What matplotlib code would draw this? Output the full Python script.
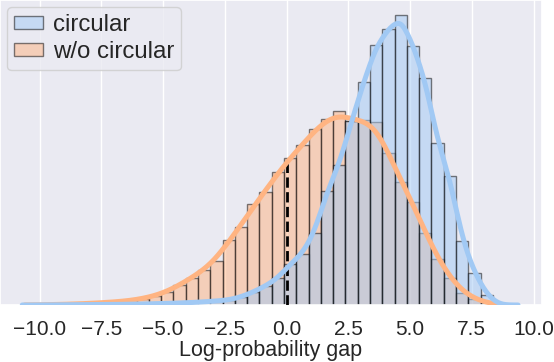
import numpy as np
import matplotlib.pyplot as plt
import seaborn as sns

# bins shared by both series (log-probability gap)
bin_start = -10.05
bin_width = 0.4973
n_bins = 37

# bar heights, left to right
circular = [0.2, 0.2, 0.3, 0.3, 0.4, 0.5, 0.6, 0.8, 1.0, 1.3, 1.6, 2.0, 2.5,
            3.2, 4.0, 5.0, 8.0, 13.0, 19.0, 26.7, 41.0, 51.0, 72.3, 114.3,
            139.7, 184.0, 223.3, 260.0, 275.7, 290.0, 259.3, 226.7, 161.7,
            129.0, 64.3, 32.3, 10.0]
wo_circular = [0.3, 0.5, 0.8, 1.2, 1.8, 2.5, 3.3, 4.3, 6.3, 9.0, 13.0, 20.0,
               27.3, 35.0, 44.3, 65.0, 77.7, 100.7, 112.7, 133.3, 146.7, 160.0,
               175.7, 185.7, 194.3, 184.0, 185.0, 183.3, 151.7, 123.3, 103.3,
               71.7, 46.0, 26.7, 12.3, 5.7, 1.7]
labels = ["circular", "w/o circular"]

# kde support and bandwidth for each series
kde_range = {"circular": (-10.7, 9.37), "w/o circular": (-10.6, 8.65)}
kde_bw = {"circular": 0.33, "w/o circular": 0.5}

edges = bin_start + bin_width * np.arange(n_bins + 1)
centers = (edges[:-1] + edges[1:]) / 2


def kde_curve(series, counts):
    lo, hi = kde_range[series]
    bw = kde_bw[series]
    grid = np.linspace(lo, hi, 400)
    z = (grid[:, None] - centers[None, :]) / bw
    dens = (np.asarray(counts)[None, :] * np.exp(-0.5 * z ** 2)).sum(1)
    dens = dens / (bw * np.sqrt(2 * np.pi)) * bin_width
    return grid, dens


sns.set_theme(style="darkgrid")
plt.rcParams['font.family'] = ['Liberation Sans', 'DejaVu Sans']
pal = sns.color_palette("pastel")
colors = {"circular": pal[0], "w/o circular": pal[1]}

fig = plt.figure(figsize=(5.54, 3.62), dpi=100)
ax = fig.add_axes([0, 57 / 362, 542 / 554, 305 / 362])

# orange layer first, blue on top (as seaborn layers hue levels)
for name, vals in [("w/o circular", wo_circular), ("circular", circular)]:
    ax.hist(centers, bins=edges, weights=vals, color=colors[name], alpha=0.5,
            edgecolor='black', linewidth=1, label=name, zorder=2)

gx, gy = kde_curve("w/o circular", wo_circular)
ax.vlines(0, 0, np.interp(0, gx, gy), colors='black', linestyles='--',
          linewidth=2, zorder=3)
ax.plot(gx, gy, color=colors["w/o circular"], lw=3.6, zorder=4)
gx, gy = kde_curve("circular", circular)
ax.plot(gx, gy, color=colors["circular"], lw=3.6, zorder=4)

ax.set_xlim(-11.6, 10.34)
ax.set_ylim(0, max(circular) * 1.052)
ax.set_yticks([])
ax.set_xticks(np.arange(-10, 10.1, 2.5))
ax.tick_params(axis='x', labelsize=15, pad=4.5)
ax.set_xlabel("Log-probability gap", fontsize=15.5, labelpad=1)

handles, leg_labels = ax.get_legend_handles_labels()
order = [leg_labels.index(l) for l in labels]
ax.legend([handles[i] for i in order], labels, loc='upper left', fontsize=17.3,
          handlelength=1.17, handleheight=0.45, labelspacing=0.2,
          handletextpad=0.42, borderaxespad=0.3, borderpad=0.3)

fig.savefig("out.png", dpi=100)
